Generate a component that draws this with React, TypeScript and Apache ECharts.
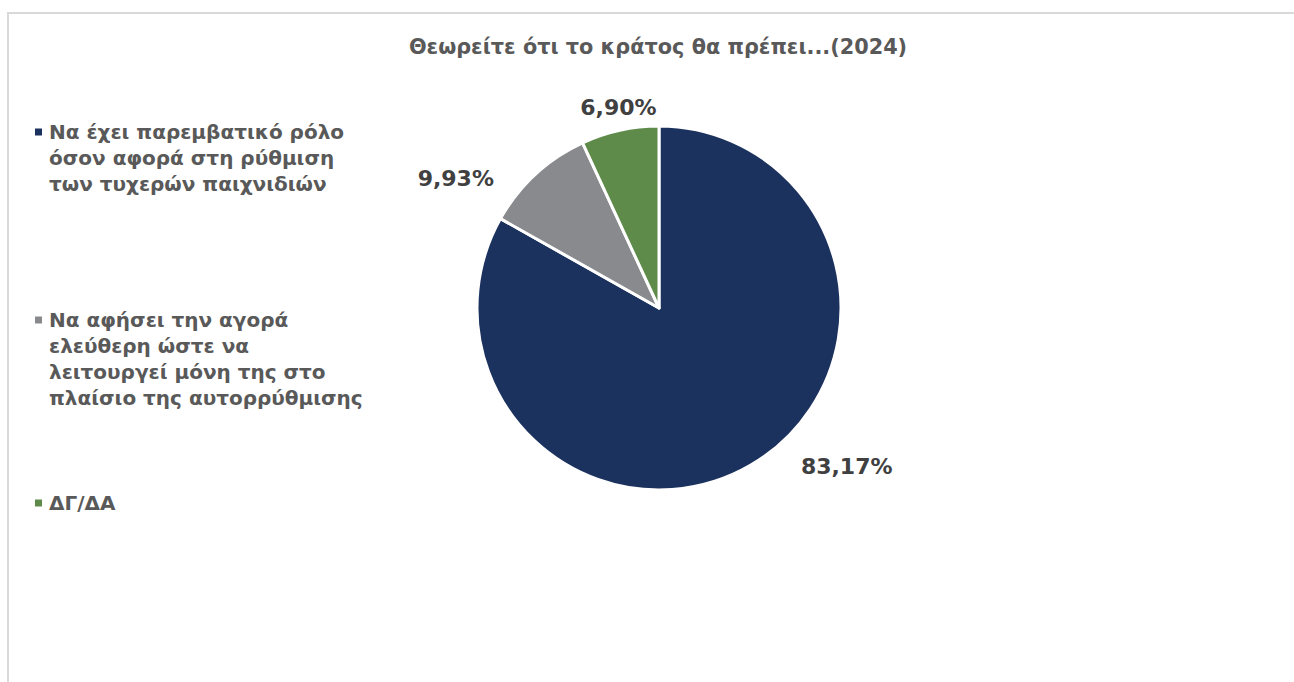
import React, { useEffect, useRef } from "react";
import * as echarts from "echarts";

const titleText = "Θεωρείτε ότι το κράτος θα πρέπει...(2024)";
const categories = [
  "Να έχει παρεμβατικό ρόλο όσον αφορά στη ρύθμιση των τυχερών παιχνιδιών",
  "Να αφήσει την αγορά ελεύθερη ώστε να λειτουργεί μόνη της στο πλαίσιο της αυτορρύθμισης",
  "ΔΓ/ΔΑ",
];
const values = [83.17, 9.93, 6.9];
const legendLines = [
  ["Να έχει παρεμβατικό ρόλο", "όσον αφορά στη ρύθμιση", "των τυχερών παιχνιδιών"],
  ["Να αφήσει την αγορά", "ελεύθερη ώστε να", "λειτουργεί μόνη της στο", "πλαίσιο της αυτορρύθμισης"],
  ["ΔΓ/ΔΑ"],
];
const colors = ["#1C325E", "#898A8D", "#5F8B4A"];

const FONT = "DejaVu Sans";

export default function App() {
  const ref = useRef<HTMLDivElement>(null);
  useEffect(() => {
    if (!ref.current) return;
    const chart = echarts.init(ref.current, null, { renderer: "svg" });
    const legendTops = [119, 307, 490];
    const labelOffsets: number[][] = [
      [35, -16],
      [-23, 19],
      [46, -3],
    ];
    const rich: any = {
      g: { width: 7, height: 7, lineHeight: 26 },
      s: { width: 14, lineHeight: 26 },
      t: { fontSize: 20, fontWeight: "bold", color: "#595959", fontFamily: FONT, lineHeight: 26 },
    };
    colors.forEach((c, i) => {
      rich["m" + i] = { width: 7, height: 7, backgroundColor: c, lineHeight: 26 };
    });
    const legends = categories.map((name, i) => ({
      data: [name],
      orient: "vertical",
      left: 29,
      top: legendTops[i],
      padding: 0,
      itemWidth: 0,
      itemHeight: 0,
      icon: "rect",
      selectedMode: false,
      formatter: () =>
        legendLines[i]
          .map((l, j) => (j === 0 ? `{m${i}|}{g|}` : `{s|}`) + `{t|${l}}`)
          .join("\n"),
      textStyle: { rich, fontFamily: FONT, fontSize: 20, lineHeight: 26 },
    }));
    chart.setOption({
      animation: false,
      color: colors,
      title: {
        text: titleText,
        left: 658,
        top: 36,
        padding: 0,
        textAlign: "center",
        textStyle: { fontFamily: FONT, fontSize: 20.8, fontWeight: "bold", color: "#595959" },
      },
      legend: legends,
      graphic: [
        {
          type: "rect",
          shape: { x: 8, y: 13, width: 1400, height: 800 },
          style: { fill: "none", stroke: "#D9D9D9", lineWidth: 2 },
          silent: true,
        },
      ],
      series: [
        {
          type: "pie",
          center: [659, 308],
          radius: 182,
          startAngle: 90,
          clockwise: true,
          avoidLabelOverlap: false,
          emphasis: { disabled: true },
          itemStyle: { borderColor: "#FFFFFF", borderWidth: 3 },
          labelLine: { show: false, length: 20, length2: 0 },
          label: {
            show: true,
            position: "outside",
            fontFamily: FONT,
            fontSize: 22,
            fontWeight: "bold",
            color: "#404040",
            formatter: (p: any) => p.value.toFixed(2).replace(".", ",") + "%",
          },
          data: categories.map((name, i) => ({
            name,
            value: values[i],
            label: { offset: labelOffsets[i] },
          })),
        },
      ],
    });
    return () => chart.dispose();
  }, []);
  return (
    <div
      ref={ref}
      style={{ position: "absolute", left: 0, top: 0, width: 1294, height: 682, background: "#fff" }}
    />
  );
}
